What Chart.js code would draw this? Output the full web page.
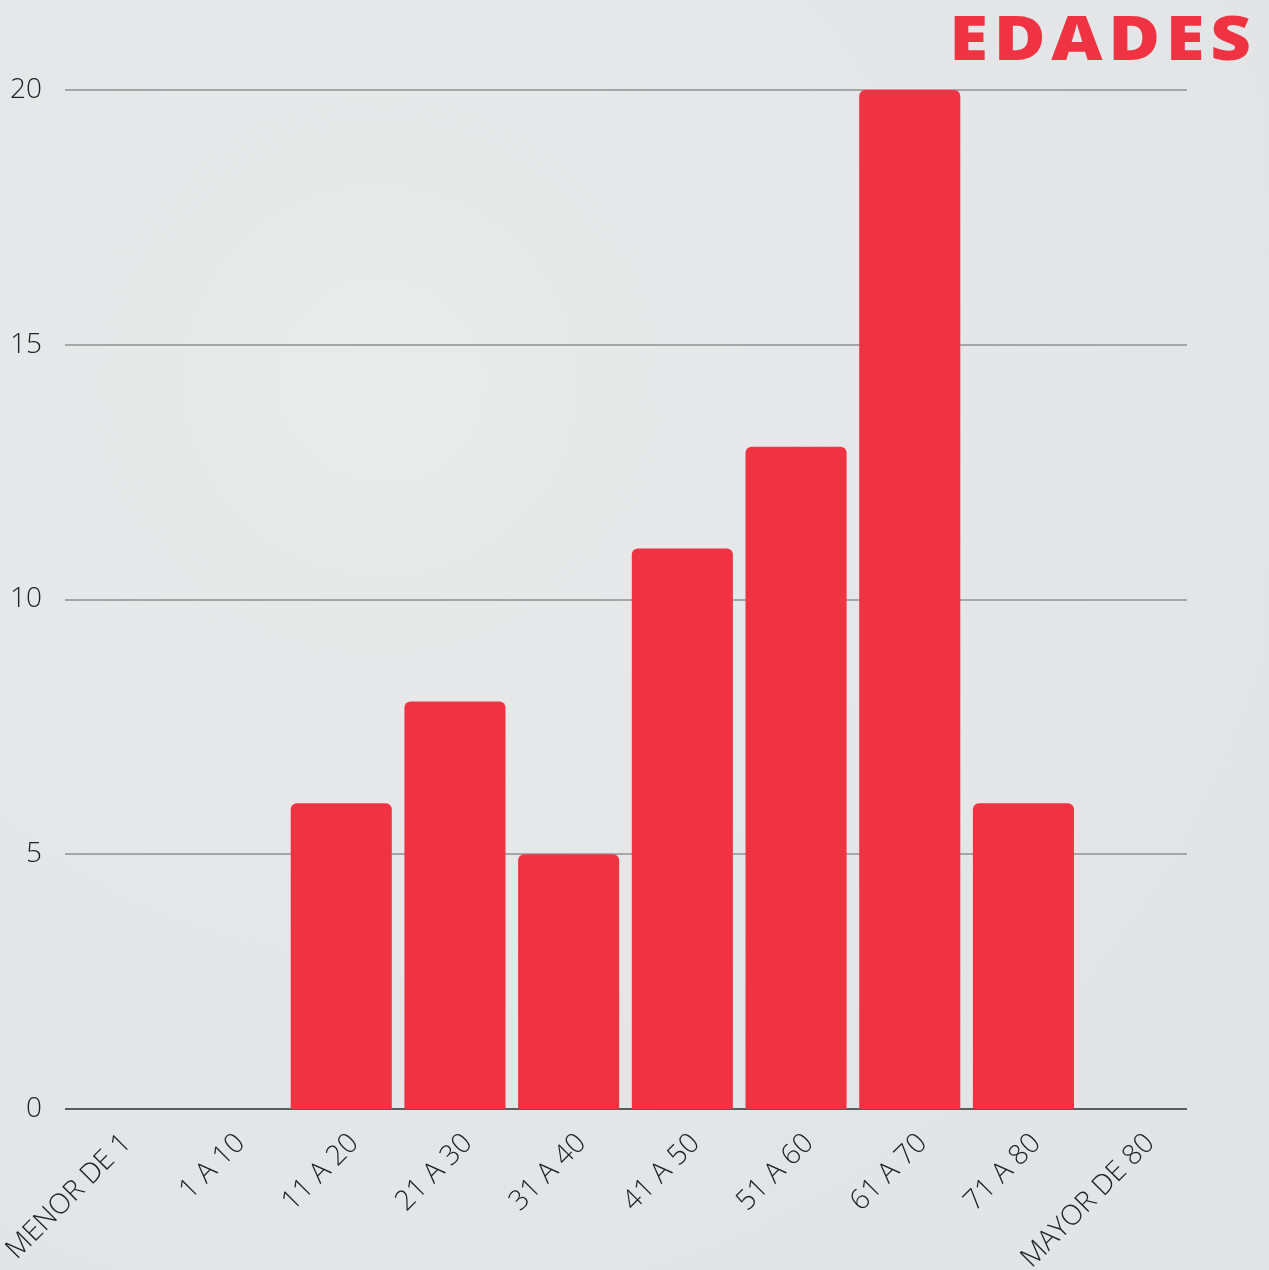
<!DOCTYPE html>
<html>
<head>
<meta charset="utf-8">
<script src="https://cdn.jsdelivr.net/npm/chart.js@4"></script>
<style>
  html, body {
    margin: 0;
    padding: 0;
    width: 1269px;
    height: 1270px;
    overflow: hidden;
    background: #e5e6e7;
  }
  .wrap {
    position: relative;
    width: 1269px;
    height: 1270px;
    background: radial-gradient(ellipse at 30% 30%, #e9eaea 0%, #e4e5e6 60%, #e2e3e4 100%);
  }
  .title {
    position: absolute;
    right: 12px;
    top: -6px;
    margin: 0;
    font-family: "Open Sans", sans-serif;
    font-weight: 800;
    font-size: 62px;
    letter-spacing: 5px;
    color: #ef3342;
    transform: scaleX(1.14);
    transform-origin: right center;
  }
  canvas { position: absolute; left: 0; top: 0; }
</style>
</head>
<body>
<div class="wrap">
  <h1 class="title">EDADES</h1>
  <canvas id="edadesChart" width="1269" height="1270"></canvas>
</div>
<script>
const categories = ["MENOR DE 1", "1 A 10", "11 A 20", "21 A 30", "31 A 40", "41 A 50", "51 A 60", "61 A 70", "71 A 80", "MAYOR DE 80"];
const counts = [0, 0, 6, 8, 5, 11, 13, 20, 6, 0];
const yTicks = [0, 5, 10, 15, 20];

const barColor = "#ef3342";
const labelFont = "'Open Sans', sans-serif";

// grid lines are a bit narrower than the category band, so draw them here
const gridLines = {
    id: "gridLines",
    beforeDatasetsDraw(chart) {
        const { ctx, chartArea, scales } = chart;
        const x0 = chartArea.left + 8;
        const x1 = chartArea.right - 7;
        ctx.save();
        yTicks.forEach(v => {
            const y = Math.round(scales.y.getPixelForValue(v));
            ctx.beginPath();
            ctx.strokeStyle = v === 0 ? "#5c5c5c" : "#a6a6a6";
            ctx.lineWidth = 2;
            ctx.moveTo(x0, y);
            ctx.lineTo(x1, y);
            ctx.stroke();
        });
        ctx.restore();
    }
};

function buildChart() {
    const ctx = document.getElementById("edadesChart").getContext("2d");

    return new Chart(ctx, {
        type: "bar",
        data: {
            labels: categories,
            datasets: [{
                data: counts,
                backgroundColor: barColor,
                borderRadius: { topLeft: 6, topRight: 6, bottomLeft: 0, bottomRight: 0 },
                borderSkipped: false,
                barPercentage: 0.889,
                categoryPercentage: 1
            }]
        },
        options: {
            responsive: false,
            animation: false,
            layout: {
                padding: { top: 90, right: 75, left: 0, bottom: 0 }
            },
            plugins: {
                legend: { display: false },
                tooltip: { enabled: false }
            },
            scales: {
                x: {
                    grid: { display: false },
                    border: { display: false },
                    ticks: {
                        minRotation: 45,
                        maxRotation: 45,
                        padding: 10,
                        labelOffset: 13,
                        color: "#222",
                        font: { family: labelFont, size: 28, weight: 300 }
                    },
                    afterFit(scale) {
                        scale.height = 161;
                        scale.paddingLeft = 0;
                        scale.paddingRight = 0;
                    }
                },
                y: {
                    min: 0,
                    max: 20,
                    afterBuildTicks(scale) {
                        scale.ticks = yTicks.map(v => ({ value: v }));
                    },
                    grid: { display: false },
                    border: { display: false },
                    ticks: {
                        padding: 7,
                        color: "#222",
                        font: { family: labelFont, size: 28, weight: 300 }
                    },
                    afterFit(scale) { scale.width = 57; }
                }
            }
        },
        plugins: [gridLines]
    });
}

document.addEventListener("DOMContentLoaded", buildChart);
</script>
</body>
</html>
